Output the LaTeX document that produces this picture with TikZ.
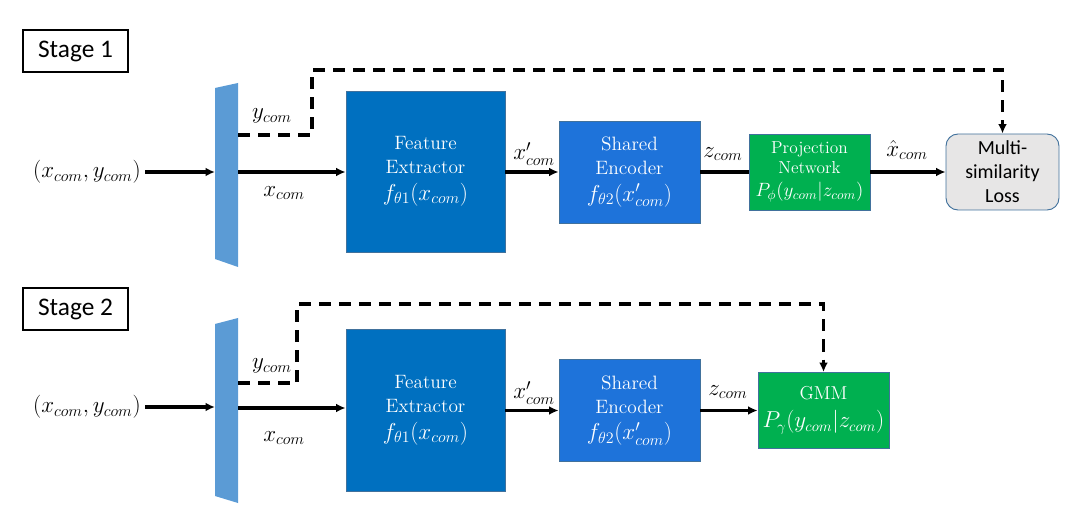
\documentclass[tikz,border=0pt]{standalone}
\usepackage{fontspec}
\newfontfamily\calibri{Carlito}
\usetikzlibrary{arrows.meta}
\definecolor{splitblue}{RGB}{91,155,213}
\definecolor{featblue}{RGB}{0,112,192}
\definecolor{encblue}{RGB}{30,115,218}
\definecolor{projgreen}{RGB}{0,176,80}
\definecolor{edgeblue}{RGB}{65,113,156}
\definecolor{lossgray}{RGB}{231,230,230}
\newcommand\bigmath[2]{{\fontsize{#1}{19}\selectfont$#2$}}
\begin{document}
\begin{tikzpicture}[x=.75pt,y=-.75pt,>={Latex[length=7pt,width=6.5pt]},
    flow/.style={line width=2.3pt},
    side/.style={line width=2.3pt,dash pattern=on 9pt off 6pt},
    lbl/.style={font=\fontsize{16.5}{19}\selectfont},
    blk/.style={draw=edgeblue,line width=.7pt,text=white,align=center,inner sep=0pt,font=\fontsize{14.5}{18}\selectfont},
    stagebox/.style={draw,line width=.8pt,minimum width=78.75pt,minimum height=31.5pt,inner sep=0pt,font=\calibri\fontsize{19}{22}\selectfont}]
    \useasboundingbox(0,0)rectangle(1078,520);
    % stage 1
    \node[stagebox](st1)at(75.5,51){Stage 1};
    \fill[splitblue](215,88)--(238,83)--(238,267)--(215,259)--cycle;
    \coordinate(sp1w)at(215,172);\coordinate(sp1e)at(238,172);\coordinate(sp1y)at(238,135);
    \node[lbl](in1)at(87,172){$(x_{com},y_{com})$};
    \node[blk,fill=featblue,minimum width=119.25pt,minimum height=120.75pt](fe1)at(425.5,171.5){Feature\\Extractor\\[2pt]\bigmath{16.5}{f_{\theta1}(x_{com})}};
    \node[blk,fill=encblue,minimum width=105.75pt,minimum height=76.5pt](enc1)at(629.5,172){Shared\\Encoder\\[2pt]\bigmath{16.5}{f_{\theta2}(x'_{com})}};
    \node[blk,fill=projgreen,minimum width=90.75pt,minimum height=57pt,font=\fontsize{13}{15}\selectfont](proj1)at(809.5,172){Projection\\Network\\[2pt]\bigmath{14.5}{P_{\phi}(y_{com}|z_{com})}};
    \node[draw=edgeblue,line width=.7pt,fill=lossgray,rounded corners=9pt,minimum width=84.75pt,minimum height=57pt,inner sep=0pt,align=center,font=\calibri\fontsize{15}{18}\selectfont](loss1)at(1002.5,172){Multi-\\similarity\\Loss};
    \draw[flow,->](in1)--(sp1w);
    \draw[flow,->](sp1e)--(sp1e-|fe1.west);
    \draw[flow,->](fe1.east|-enc1)--(enc1);
    \draw[flow](enc1)--(proj1);
    \draw[flow,->](proj1)--(loss1);
    \draw[side,->](sp1y)--(312,135)--(312,70)-|(loss1.north);
    \node[lbl](ly1)at(272,116){$y_{com}$};
    \node[lbl](lx1)at(284,193){$x_{com}$};
    \node[lbl](lxp1)at(534,154){$x'_{com}$};
    \node[lbl](lz1)at(723,154){$z_{com}$};
    \node[lbl](lxh1)at(907,150){$\hat{x}_{com}$};
    % stage 2
    \node[stagebox](st2)at(75.5,309){Stage 2};
    \fill[splitblue](215,324)--(238,318)--(238,503)--(215,496)--cycle;
    \coordinate(sp2w)at(215,407);\coordinate(sp2e)at(238,408);\coordinate(sp2y)at(238,383);
    \node[lbl](in2)at(87,407){$(x_{com},y_{com})$};
    \node[blk,fill=featblue,minimum width=119.25pt,minimum height=121.5pt](fe2)at(425.5,410){Feature\\Extractor\\[2pt]\bigmath{16.5}{f_{\theta1}(x_{com})}};
    \node[blk,fill=encblue,minimum width=105.75pt,minimum height=76.5pt](enc2)at(629.5,410.5){Shared\\Encoder\\[2pt]\bigmath{16.5}{f_{\theta2}(x'_{com})}};
    \node[blk,fill=projgreen,minimum width=98.25pt,minimum height=57pt,font=\fontsize{14}{16}\selectfont](gmm2)at(823.5,410.5){GMM\\[5pt]\bigmath{16}{P_{\gamma}(y_{com}|z_{com})}};
    \draw[flow,->](in2)--(sp2w);
    \draw[flow,->](sp2e)--(sp2e-|fe2.west);
    \draw[flow,->](fe2.east|-enc2)--(enc2);
    \draw[flow,->](enc2)--(gmm2);
    \draw[side,->](sp2y)--(297,383)--(297,304)-|(gmm2.north);
    \node[lbl](ly2)at(272,366){$y_{com}$};
    \node[lbl](lx2)at(284,438){$x_{com}$};
    \node[lbl](lxp2)at(534,393){$x'_{com}$};
    \node[lbl](lz2)at(728,392){$z_{com}$};
\end{tikzpicture}
\end{document}
